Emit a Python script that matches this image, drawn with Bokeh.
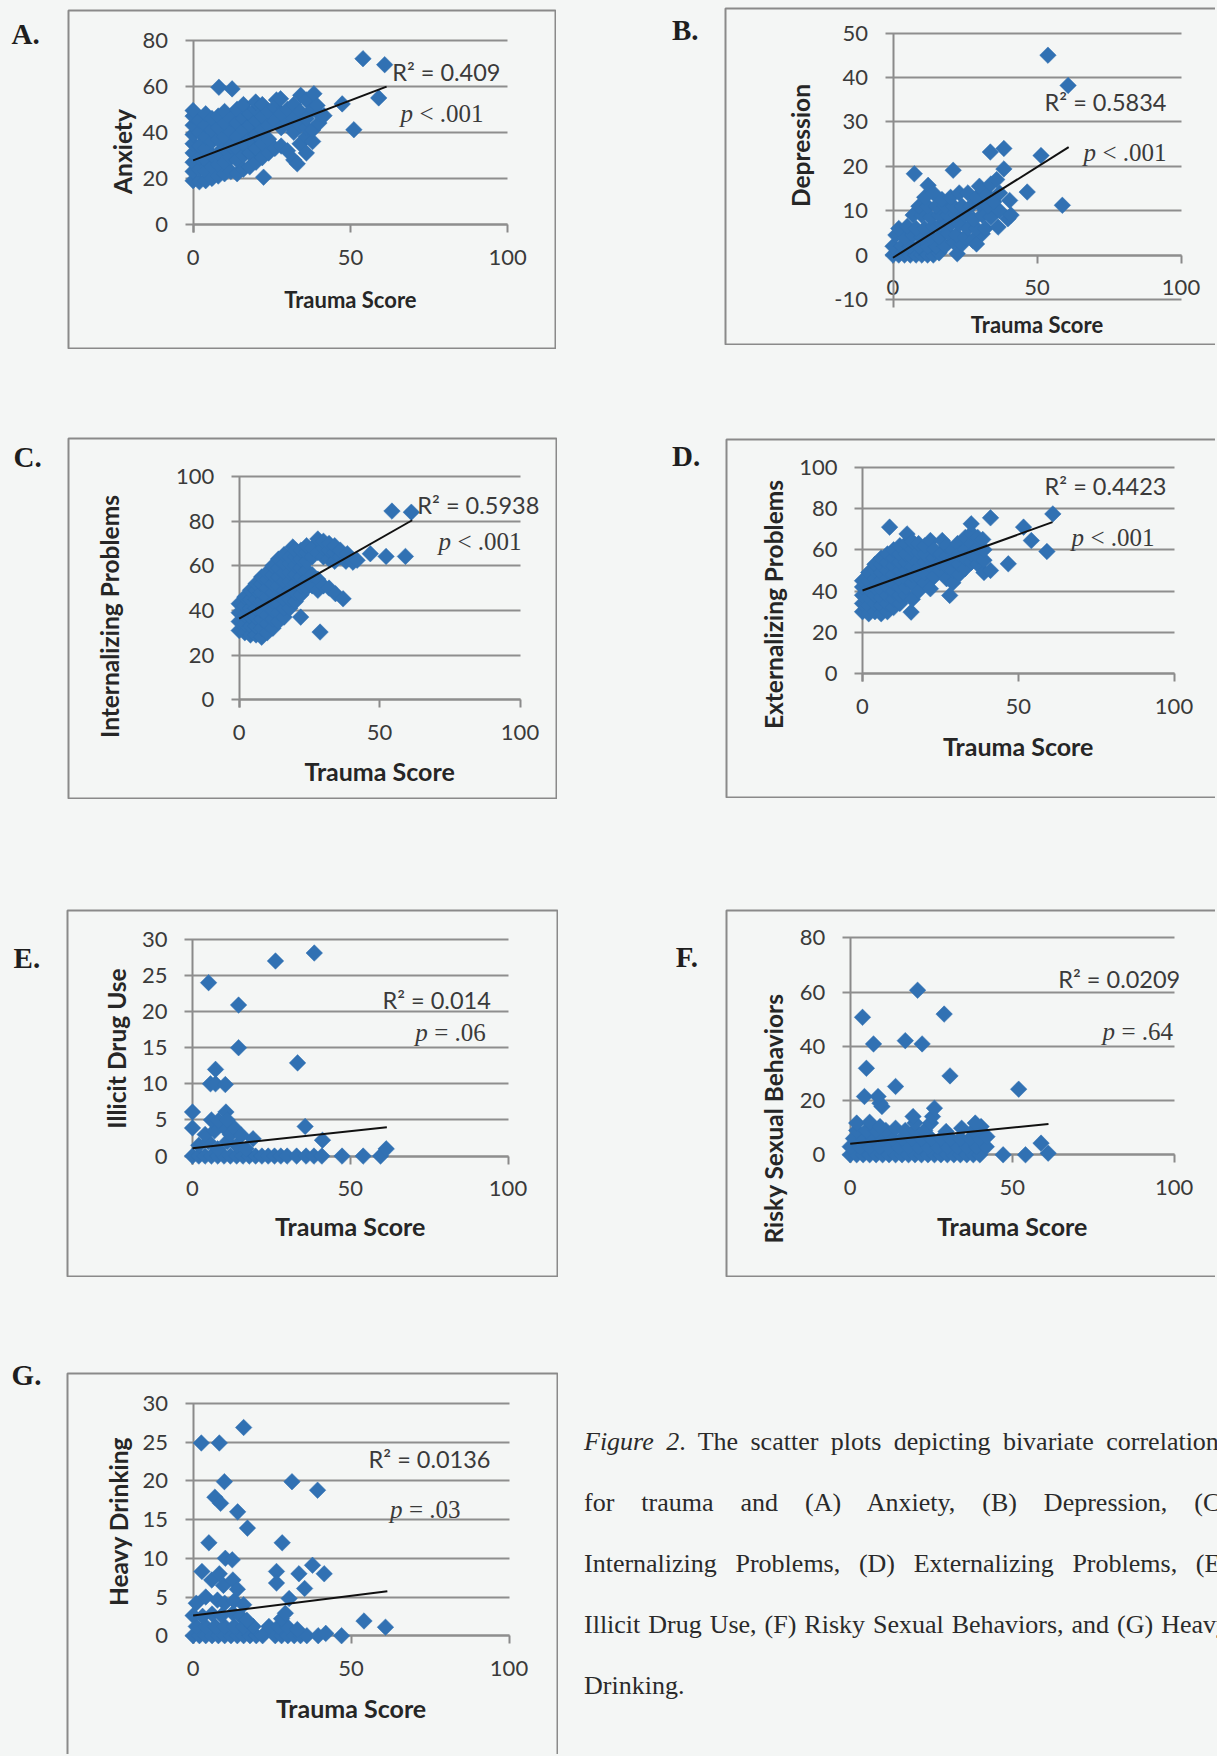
import math
from bokeh.plotting import figure
from bokeh.models import Range1d, FixedTicker, LinearAxis, Grid, Label, Div
from bokeh.layouts import row, column
from bokeh.embed import file_html
from bokeh.resources import INLINE

# ---------------- data ----------------
trauma_ticks = [0, 50, 100]
x_title = "Trauma Score"

anxiety_pts = [
    (0, 19), (0, 23), (0, 27), (0, 31), (0, 35), (0, 39), (0, 43), (0, 47), (0, 49.4),
    (2, 18.5), (2, 24), (2, 29), (2, 34), (2, 40), (2, 45),
    (4, 19), (4, 23), (4, 28), (4, 33), (4, 38), (4, 43), (4, 48),
    (6, 20), (6, 25), (6, 30), (6, 36), (6, 41), (6, 46),
    (8, 21), (8, 26), (8, 31), (8, 37), (8, 42), (8, 47), (8.2, 59.5),
    (10, 22), (10, 27), (10, 33), (10, 38), (10, 44), (10, 49),
    (12, 23), (12, 29), (12, 34), (12, 40), (12, 46), (12.4, 58.8),
    (14, 22), (14, 28), (14, 33), (14, 38), (14, 44), (14, 50),
    (16, 24), (16, 30), (16, 35), (16, 41), (16, 46), (16, 52),
    (18, 25), (18, 31), (18, 37), (18, 43), (18, 48),
    (20, 27), (20, 33), (20, 39), (20, 45), (20, 50), (19.9, 53.1),
    (22, 29), (22, 35), (22, 41), (22, 47), (22, 52), (22.4, 20.5),
    (24, 31), (24, 37), (24, 43), (24, 49),
    (26, 33), (26, 45), (26, 51), (26.5, 54),
    (28, 34), (28, 42), (28, 48), (27.8, 54.5),
    (30, 32), (30, 44), (30, 50),
    (32, 28), (32, 40), (32, 46), (32, 52),
    (33.1, 26.3), (34, 35), (34, 43), (34, 49), (34.2, 56),
    (36, 31), (36, 38), (36, 42), (36, 46), (36, 54),
    (38, 36), (38, 41), (38, 50), (38.4, 56.7),
    (40, 44), (40, 48), (39.4, 51.6),
    (41.6, 47.2), (47.4, 52.3), (51.1, 41.1), (54, 71.9), (60.9, 69.3), (59, 54.9),
]
anxiety_fit_x = [0, 61.5]
anxiety_fit_y = [27.8, 59.8]

depression_pts = [
    (0, 0), (2, 0), (4, 0), (6, 0), (8, 0), (10, 0), (12, 0), (14, 0), (16, 0.5), (22.3, 0.3),
    (0, 2), (3, 2), (6, 2), (9, 2), (12, 2), (15, 2), (18, 2), (21, 3), (24, 2.5),
    (1, 4.5), (4, 4), (7, 4.5), (10, 4), (13, 4), (16, 4), (19, 5), (22, 4.5), (25, 4),
    (27.7, 3.3), (29, 2.5), (31, 4.8),
    (2, 6), (5, 6.5), (8, 6), (11, 6), (14, 6.5), (17, 7), (20, 7), (23, 7), (26, 6),
    (29, 6), (32, 6), (36.5, 6.3),
    (7, 9), (10, 9), (13, 8.5), (16, 9), (19, 9), (22, 9), (25, 9), (28, 8), (31, 9),
    (34, 8.5), (39.9, 8.2),
    (9, 11), (12, 11), (15, 11), (18, 11), (21, 11), (24, 11), (27, 11), (30, 11.5),
    (33, 11), (37, 10), (41, 9),
    (11, 13), (12.2, 15.7), (14, 14), (17, 12.5), (20, 13), (23, 14), (26, 14), (29, 13),
    (32, 14), (35, 12), (37, 14), (40.5, 12.3),
    (7.4, 18.3), (20.9, 19.1), (30, 15.5), (34, 16), (36, 17), (38.5, 19.4), (33.8, 23.2),
    (38.5, 24), (46.6, 14.2), (51.4, 22.4), (58.8, 11.2), (60.8, 38.2), (53.8, 45),
]
depression_fit_x = [0, 61]
depression_fit_y = [-0.6, 24.3]

internalizing_pts = [
    (0, 31), (0, 35), (0, 39), (0, 43),
    (2, 30), (2, 34), (2, 38), (2, 42), (2, 46),
    (4, 29), (4, 33), (4, 37), (4, 41), (4, 45), (4, 49),
    (6, 29), (6, 33), (6, 37), (6, 41), (6, 45), (6, 49), (6, 52),
    (8, 28), (8, 32), (8, 36), (8, 40), (8, 44), (8, 48), (8, 52), (8, 55),
    (10, 30), (10, 34), (10, 38), (10, 42), (10, 46), (10, 50), (10, 54), (10, 57),
    (12, 32), (12, 36), (12, 40), (12, 44), (12, 48), (12, 52), (12, 56), (12, 60),
    (14, 35), (14, 39), (14, 43), (14, 47), (14, 51), (14, 55), (14, 59), (14, 63),
    (16, 37), (16, 41), (16, 45), (16, 49), (16, 53), (16, 57), (16, 61), (16, 65),
    (18, 41), (18, 45), (18, 49), (18, 53), (18, 57), (18, 61), (18, 64), (19.1, 68.4),
    (20, 44), (20, 48), (20, 52), (20, 56), (20, 60), (20, 64), (20, 67),
    (21.9, 37), (22, 47), (22, 51), (22, 55), (22, 59), (22, 63), (22, 67),
    (24, 50), (24, 54), (24, 58), (24, 62), (24, 66), (24, 69),
    (26, 51), (26, 56), (26, 64), (26, 68),
    (28, 49), (28, 54), (28, 66), (28, 72), (28.8, 30.3),
    (30, 51), (30, 64), (30, 68), (30, 71),
    (32, 50), (32, 63), (32, 67), (32, 70),
    (34.3, 47.5), (34, 62), (34, 66), (34, 69),
    (37, 45.2), (36, 64), (36, 67),
    (38, 62), (38.5, 65.4), (40.5, 61.6), (42, 62.5),
    (46.7, 65.4), (52.3, 64.2), (59.2, 64.2), (54.4, 84.5), (61.3, 84),
]
internalizing_fit_x = [0, 61.6]
internalizing_fit_y = [36.3, 80.4]

externalizing_pts = [
    (0, 30), (0, 34), (0, 38), (0, 42), (0, 45),
    (2, 29), (2, 33), (2, 37), (2, 41), (2, 45), (2, 49),
    (4, 30), (4, 34), (4, 38), (4, 42), (4, 46), (4, 50), (4, 53),
    (6, 29), (6, 33), (6, 37), (6, 41), (6, 45), (6, 49), (6, 53), (6, 56),
    (8, 30), (8, 34), (8, 38), (8, 42), (8, 46), (8, 50), (8, 54), (8, 58), (8.7, 71),
    (10, 32), (10, 36), (10, 40), (10, 44), (10, 48), (10, 52), (10, 56), (10, 60),
    (12, 34), (12, 38), (12, 42), (12, 46), (12, 50), (12, 54), (12, 58), (12, 62),
    (14, 38), (14, 42), (14, 46), (14, 50), (14, 54), (14, 58), (14, 63), (14.3, 67.7),
    (15.6, 29.8),
    (16, 36), (16, 44), (16, 48), (16, 52), (16, 56), (16, 60), (16, 64),
    (18, 40), (18, 47), (18, 51), (18, 55), (18, 59), (18, 63),
    (20, 44), (20, 49), (20, 54), (20, 58), (20, 62),
    (21.8, 41.1), (22, 52), (21.8, 64.5),
    (23, 47), (23, 56), (23, 60),
    (25, 50), (25, 54), (25, 58), (25.6, 64.5),
    (27, 46), (27, 52), (27, 57), (27, 62),
    (28, 37.9),
    (29, 44), (29, 50), (29, 55), (29, 60), (30.5, 63),
    (31, 48), (31, 53), (31, 58),
    (33, 51), (33, 56), (33, 60), (33, 66),
    (35, 54), (35, 58), (35, 63), (35, 68), (34.9, 72.6),
    (37, 53), (37, 57), (37, 61), (37, 66),
    (39, 49), (39, 55), (39, 60), (38.6, 65),
    (41.1, 50), (41.1, 75.5),
    (46.8, 53.2), (51.7, 71), (54.2, 64.5), (59.2, 59.2), (61.1, 77.4),
]
externalizing_fit_x = [0, 61]
externalizing_fit_y = [40.3, 73.4]

drug_pts = [
    (0, 0), (2, 0), (4, 0), (6, 0), (8, 0), (10, 0), (12, 0), (14, 0), (16, 0), (18, 0),
    (20, 0), (22, 0), (24, 0), (26, 0), (28, 0), (30, 0), (33, 0), (36, 0), (38.5, 0),
    (41, 0), (47.4, 0), (54.1, 0), (59.6, 0), (61.4, 1),
    (2, 1.5), (5, 2), (8, 1), (11, 2), (14, 1.5), (17, 1), (19.2, 2.4), (41.2, 2.2),
    (0, 3.9), (4, 3), (7, 3.5), (10, 4), (12, 3), (13, 4), (15.5, 2.9), (35.7, 4.1),
    (0, 6.1), (6, 5), (8.2, 4.9), (10.6, 6.1), (11, 5),
    (5.7, 10), (7.3, 10), (10.4, 9.9), (7.3, 12),
    (14.6, 15), (14.6, 20.9), (5.1, 24), (26.3, 27), (38.6, 28.1), (33.3, 12.9),
]
drug_fit_x = [0, 61.6]
drug_fit_y = [1.1, 4.0]

sexual_pts = [
    (0, 0), (2, 0), (4, 0), (6, 0), (8, 0), (10, 0), (12, 0), (14, 0), (16, 0), (18, 0),
    (20, 0), (22, 0), (24, 0), (26, 0), (28, 0), (30, 0), (32, 0), (34, 0), (36, 0),
    (38, 0), (40, 0), (47.2, 0), (54.1, 0), (61.1, 0.6),
    (0, 3), (3, 3), (6, 3), (9, 3), (12, 3), (15, 3), (18, 3), (21, 3), (24, 3), (27, 3),
    (30, 3), (33, 3), (36, 3), (39, 3), (42, 3), (58.9, 4.3),
    (1, 6), (4, 6), (7, 6), (10, 6), (13, 6), (16, 6), (19, 6), (22, 6), (25, 6), (28, 6),
    (31, 6), (34, 6), (37, 6), (40, 6), (42.2, 6.7),
    (2, 9), (5, 9), (8, 9), (11, 9), (14, 9.8), (17, 9), (20, 9), (23, 9), (29.6, 8.6),
    (34.4, 9.8), (38, 9), (40.4, 10.4),
    (2, 11.7), (6, 12), (9.2, 10.4), (20, 11.7), (24.8, 11.7), (38.6, 11.7),
    (19.4, 14.1), (25.4, 14.1), (26, 17.2), (9.8, 17.8), (9.2, 19), (4.4, 21.5), (8.6, 21.5),
    (14, 25.2), (52, 24.2), (30.8, 29.1), (5, 31.9), (7.2, 40.9), (17, 42.1), (22.2, 40.9),
    (3.8, 50.7), (29, 51.9), (20.8, 60.7),
]
sexual_fit_x = [0, 61.2]
sexual_fit_y = [4.1, 11.4]

drinking_pts = [
    (0, 0), (2, 0), (4, 0), (6, 0), (8, 0), (10, 0), (12, 0), (14, 0), (16, 0), (18, 0),
    (20, 0), (22, 0), (26, 0), (28, 0), (30, 0), (32, 0), (34, 0), (36, 0), (39.6, 0),
    (42, 0.3), (47, 0),
    (1, 1.2), (4, 1.2), (7, 1.2), (10, 1.2), (13, 1.2), (16, 1.2), (19, 1.2), (24, 1.2),
    (27, 1.2), (29.8, 1.2), (33, 0.8), (60.9, 1.1),
    (0, 2.6), (3, 2.5), (6, 2.8), (9, 2.6), (12.6, 2.9), (15, 2.5), (17, 2), (28, 2.2),
    (29.2, 2.9), (54.1, 1.9),
    (1, 4.2), (4, 5), (7.7, 4.6), (10, 4.2), (13, 4.5), (16, 4), (30.4, 4.8),
    (2.8, 8.3), (5.9, 7.2), (8.3, 8), (9.6, 6.5), (12.6, 7.2), (14, 6), (26.4, 8.3),
    (26.4, 6.8), (33.5, 8), (35.3, 6.1), (37.8, 9.1), (41.5, 8),
    (10.2, 10), (12.4, 9.8), (5, 12), (28.2, 12), (17.2, 13.9), (14.1, 16), (6.9, 17.9),
    (8.7, 17.1), (9.9, 19.9), (31.3, 19.9), (39.4, 18.8), (2.6, 24.9), (8.3, 24.9), (16, 26.9),
]
drinking_fit_x = [0, 61.5]
drinking_fit_y = [2.6, 5.75]

panel_letters = ["A.", "B.", "C.", "D.", "E.", "F.", "G."]
y_titles = ["Anxiety", "Depression", "Internalizing Problems", "Externalizing Problems",
            "Illicit Drug Use", "Risky Sexual Behaviors", "Heavy Drinking"]
y_limits = [(0, 80), (-10, 50), (0, 100), (0, 100), (0, 30), (0, 80), (0, 30)]
y_tick_sets = [
    [0, 20, 40, 60, 80],
    [-10, 0, 10, 20, 30, 40, 50],
    [0, 20, 40, 60, 80, 100],
    [0, 20, 40, 60, 80, 100],
    [0, 5, 10, 15, 20, 25, 30],
    [0, 20, 40, 60, 80],
    [0, 5, 10, 15, 20, 25, 30],
]
r2_texts = ["R² = 0.409", "R² = 0.5834", "R² = 0.5938", "R² = 0.4423",
            "R² = 0.014", "R² = 0.0209", "R² = 0.0136"]
p_rest = ["< .001", "< .001", "< .001", "< .001", "= .06", "= .64", "= .03"]

caption_lines = [
    "<i>Figure 2</i>. The scatter plots depicting bivariate correlations",
    "for trauma and (A) Anxiety, (B) Depression, (C)",
    "Internalizing Problems, (D) Externalizing Problems, (E)",
    "Illicit Drug Use, (F) Risky Sexual Behaviors, and (G) Heavy",
    "Drinking.",
]

point_sets = [anxiety_pts, depression_pts, internalizing_pts, externalizing_pts,
              drug_pts, sexual_pts, drinking_pts]
fit_sets = [(anxiety_fit_x, anxiety_fit_y), (depression_fit_x, depression_fit_y),
            (internalizing_fit_x, internalizing_fit_y), (externalizing_fit_x, externalizing_fit_y),
            (drug_fit_x, drug_fit_y), (sexual_fit_x, sexual_fit_y), (drinking_fit_x, drinking_fit_y)]

# ---------------- styling / geometry (page pixel positions) ----------------
BG = "#F4F6F5"
BLUE = "#3171B3"
GRID_C = "#8E8E8E"
BOX_C = "#8A8A8A"
TXT = "#3A3A3A"
DARK = "#262626"
PAGE_W, PAGE_H = 1217, 1756
BASELINE_FIX = 0.43   # Bokeh draws "alphabetic" labels this many font-sizes lower

# box: (x, y, w, h) of the chart frame; X0/X100: pixel of trauma 0/100;
# Yt/Yb: pixel of the top / bottom y limits; fs: x-title font size
geom = [
    dict(box=(67, 9, 489, 340), X0=192.6, X100=507.2, Yt=39.5, Yb=224.0,
         r2=(500, 81.7), p=(400, 123.3), xt=308, yt=(122, 151), cut="", fs=22),
    dict(box=(724, 7, 493, 338), X0=892.5, X100=1180.5, Yt=32.5, Yb=299.0,
         r2=(1166, 111.7), p=(1083, 163), xt=333, yt=(800, 145), cut="right", fs=22),
    dict(box=(67, 437, 490, 362), X0=238.7, X100=519.5, Yt=476.0, Yb=699.2,
         r2=(538.8, 515), p=(438, 551.7), xt=781.7, yt=(109, 616), cut="", fs=25),
    dict(box=(725, 438, 492, 360), X0=862.0, X100=1173.5, Yt=466.8, Yb=673.1,
         r2=(1166, 496), p=(1071, 548), xt=756.7, yt=(773, 604), cut="right", fs=25),
    dict(box=(66, 909, 492, 368), X0=192.0, X100=507.5, Yt=938.8, Yb=1155.6,
         r2=(490.3, 1010), p=(414.7, 1043), xt=1236.7, yt=(116, 1048), cut="", fs=25),
    dict(box=(725, 909, 492, 368), X0=849.7, X100=1173.7, Yt=937.4, Yb=1154.3,
         r2=(1179.7, 988.3), p=(1102, 1041.7), xt=1236.7, yt=(773, 1118), cut="right", fs=25),
    dict(box=(66, 1372, 492, 384), X0=192.6, X100=508.5, Yt=1403.0, Yb=1635.2,
         r2=(490, 1468.3), p=(389.5, 1520), xt=1718, yt=(118, 1521), cut="bottom", fs=25),
]
# letter (left x, cap-centre y) in page pixels
letter_pos = [(11.6, 34.2), (672, 30.5), (13.6, 457.5), (672, 456.5),
              (13.6, 958.3), (675.8, 957.5), (11.6, 1375.5)]
LETTER_PX = 29
row_tops = [0, 349, 799, 1277]   # page y of each layout row

HAS_CROSS = "cross_bounds" in Grid.properties()


def make_panel(i, margin_top):
    g = geom[i]
    bx, by, W, H = g["box"]
    X0, X100, YT, YB = g["X0"], g["X100"], g["Yt"], g["Yb"]
    ymin, ymax = y_limits[i]
    ppx = (X100 - X0) / 100.0
    ppy = (YB - YT) / float(ymax - ymin)
    # the frame covers the whole box, inset by 1px
    x_start = -(X0 - bx - 1) / ppx
    x_end = 100 + (bx + W - 1 - X100) / ppx
    y_start = ymin - (by + H - 1 - YB) / ppy
    y_end = ymax + (YT - by - 1) / ppy

    styles = {}
    if g["cut"] == "right":
        styles["clip-path"] = "inset(0px 2px 0px 0px)"
    elif g["cut"] == "bottom":
        styles["clip-path"] = "inset(0px 0px 2px 0px)"

    p = figure(width=W, height=H, output_backend="svg", toolbar_location=None, tools="",
               x_range=Range1d(x_start, x_end), y_range=Range1d(y_start, y_end),
               x_axis_location=None, y_axis_location=None,
               min_border=1, min_border_left=1, min_border_right=1,
               min_border_top=1, min_border_bottom=1,
               background_fill_color=BG, border_fill_color=BG,
               outline_line_color=BOX_C, outline_line_width=2,
               margin=(margin_top, 0, 0, 0), styles=styles)
    p.xgrid.visible = False
    p.ygrid.visible = False

    tick_pad = 8.0   # gridlines / y-axis run this many px past the axes (tick marks)
    yticker = FixedTicker(ticks=y_tick_sets[i], minor_ticks=[])
    if HAS_CROSS:
        grid = Grid(dimension=1, ticker=yticker, grid_line_color=GRID_C, grid_line_width=2,
                    cross_bounds=(-tick_pad / ppx, 100))
        p.add_layout(grid)
    else:
        p.segment(x0=[-tick_pad / ppx] * len(y_tick_sets[i]), y0=y_tick_sets[i],
                  x1=[100] * len(y_tick_sets[i]), y1=y_tick_sets[i],
                  line_color=GRID_C, line_width=2, level="underlay")

    overrides = {t: str(t) for t in y_tick_sets[i] if t < 0}
    yax = LinearAxis(fixed_location=0, ticker=yticker, level="underlay",
                     bounds=(ymin - tick_pad / ppy, ymax),
                     axis_line_color=BOX_C, axis_line_width=2,
                     major_tick_out=0, major_tick_in=0, minor_tick_out=0, minor_tick_in=0,
                     major_label_standoff=25, major_label_text_font="Lato",
                     major_label_text_font_size="22px", major_label_text_color=TXT,
                     major_label_overrides=overrides)
    p.add_layout(yax, "left")
    xax = LinearAxis(fixed_location=0, bounds=(0, 100), level="underlay",
                     ticker=FixedTicker(ticks=trauma_ticks, minor_ticks=[]),
                     axis_line_color=BOX_C, axis_line_width=2,
                     major_tick_line_color=BOX_C, major_tick_line_width=2,
                     major_tick_out=8, major_tick_in=0, minor_tick_out=0, minor_tick_in=0,
                     major_label_standoff=17, major_label_text_font="Lato",
                     major_label_text_font_size="22px", major_label_text_color=TXT)
    p.add_layout(xax, "below")

    pts = point_sets[i]
    xs = [a for a, b in pts]
    ys = [b for a, b in pts]
    p.scatter(xs, ys, marker="square", angle=math.pi / 4, size=11.7,
              fill_color=BLUE, line_color=BLUE, line_width=0.5)
    fx, fy = fit_sets[i]
    p.line(fx, fy, line_color="#111111", line_width=2)

    def dx(px):
        return (px - X0) / ppx

    def dy(py, fsize):
        return ymin + (YB - (py - BASELINE_FIX * fsize)) / ppy

    r2_fs, p_fs, yt_fs, xt_fs = 23.5, 25, 24.5, g["fs"]
    rx, ry = g["r2"]
    p.add_layout(Label(x=dx(rx), y=dy(ry, r2_fs), text=r2_texts[i], text_font="Lato",
                       text_font_size="%spx" % r2_fs, text_color=TXT, text_align="right",
                       text_baseline="alphabetic"))
    px_, py_ = g["p"]
    p.add_layout(Label(x=dx(px_), y=dy(py_, p_fs), text="p", text_font="Liberation Serif",
                       text_font_style="italic", text_font_size="%spx" % p_fs, text_color=TXT,
                       text_align="left", text_baseline="alphabetic"))
    p.add_layout(Label(x=dx(px_ + 19), y=dy(py_, p_fs), text=p_rest[i],
                       text_font="Liberation Serif", text_font_size="%spx" % p_fs,
                       text_color=TXT, text_align="left", text_baseline="alphabetic"))
    p.add_layout(Label(x=50, y=dy(g["xt"], xt_fs), text=x_title, text_font="Lato",
                       text_font_style="bold", text_font_size="%spx" % xt_fs, text_color=DARK,
                       text_align="center", text_baseline="alphabetic"))
    tx, ty = g["yt"]
    p.add_layout(Label(x=dx(tx), y=ymin + (YB - ty) / ppy, text=y_titles[i], text_font="Lato",
                       text_font_style="bold", text_font_size="%spx" % yt_fs, text_color=DARK,
                       text_align="center", text_baseline="middle", angle=math.pi / 2))
    return p


def letter_div(i, left_page, row_top_page, width):
    lx, ly = letter_pos[i]
    fs = LETTER_PX
    base = (fs - 1.107 * fs) / 2 + 0.891 * fs
    cap_c = base - 0.662 * fs / 2
    pad_l = lx - left_page
    pad_t = ly - cap_c - row_top_page
    html = ('<div style="padding-left:%.1fpx;padding-top:%.1fpx;font-family:\'Liberation Serif\';'
            'font-weight:bold;font-size:%dpx;line-height:%dpx;color:#1e1e1e;">%s</div>'
            % (pad_l, pad_t, fs, fs, panel_letters[i]))
    return Div(text=html, width=width, height=220, margin=(0, 0, 0, 0))


rows = []
pairs = [(0, 1), (2, 3), (4, 5)]
for r, (li, ri) in enumerate(pairs):
    top = row_tops[r]
    lb = geom[li]["box"]
    rb = geom[ri]["box"]
    d_left = letter_div(li, 0, top, lb[0])
    f_left = make_panel(li, lb[1] - top)
    d_right = letter_div(ri, lb[0] + lb[2], top, rb[0] - (lb[0] + lb[2]))
    f_right = make_panel(ri, rb[1] - top)
    rows.append(row(d_left, f_left, d_right, f_right, spacing=0))

# last row: panel G and the caption
top = row_tops[3]
gb = geom[6]["box"]
d_g = letter_div(6, 0, top, gb[0])
f_g = make_panel(6, gb[1] - top)
cap_left = gb[0] + gb[2]
cap_w = PAGE_W - cap_left
line_h = 60.8
lines_html = ""
for k, ln in enumerate(caption_lines):
    last = (k == len(caption_lines) - 1)
    lines_html += ('<div style="width:645px;height:%.1fpx;line-height:%.1fpx;text-align:%s;'
                   'text-align-last:%s;white-space:normal;">%s</div>'
                   % (line_h, line_h, "left" if last else "justify",
                      "left" if last else "justify", ln))
cap_html = ('<div style="padding-left:%.1fpx;padding-top:135.4px;font-family:\'Liberation Serif\';'
            'font-size:26px;color:#2a2a2a;width:700px;">%s</div>' % (584 - cap_left, lines_html))
cap = Div(text=cap_html, width=cap_w, height=PAGE_H - top, margin=(0, 0, 0, 0),
          styles={"overflow": "hidden"})
rows.append(row(d_g, f_g, cap, spacing=0))

layout = column(*rows, spacing=0, styles={"background-color": BG})

open("out.html", "w").write(file_html(layout, INLINE))
